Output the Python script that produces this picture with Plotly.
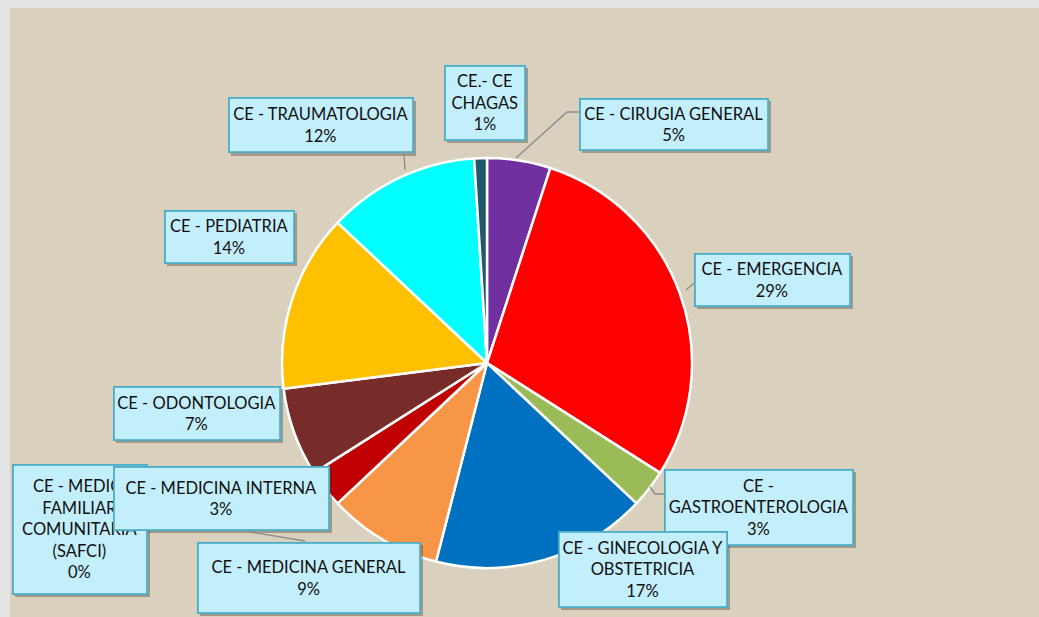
import plotly.graph_objects as go

W, H = 1039, 617

# ---- data ----
categories = [
    "CE - CIRUGIA GENERAL", "CE - EMERGENCIA", "CE - GASTROENTEROLOGIA",
    "CE - GINECOLOGIA Y OBSTETRICIA", "CE - MEDICINA GENERAL",
    "CE - MEDICINA FAMILIAR COMUNITARIA (SAFCI)", "CE - MEDICINA INTERNA",
    "CE - ODONTOLOGIA", "CE - PEDIATRIA", "CE - TRAUMATOLOGIA", "CE.- CE CHAGAS",
]
values = [5, 29, 3, 17, 9, 0, 3, 7, 14, 12, 1]
display_names = [
    "CE - CIRUGIA GENERAL", "CE - EMERGENCIA", "CE -<br>GASTROENTEROLOGIA",
    "CE - GINECOLOGIA Y<br>OBSTETRICIA", "CE - MEDICINA GENERAL",
    "CE - MEDICI<br>FAMILIAR<br>COMUNITARIA<br>(SAFCI)", "CE - MEDICINA INTERNA",
    "CE - ODONTOLOGIA", "CE - PEDIATRIA", "CE - TRAUMATOLOGIA", "CE.- CE<br>CHAGAS",
]

# ---- styles / layout ----
colors = ["#7030a0", "#ff0000", "#9bbb59", "#0070c0", "#f79646", "#4f81bd",
          "#c00000", "#772c2a", "#ffc000", "#00ffff", "#215968"]
# label boxes: (left, top, right, bottom) in pixels
boxes = [
    (579, 98, 768, 150),   # cirugia
    (694, 253, 850, 306),  # emergencia
    (664, 469, 853, 545),  # gastro
    (558, 531, 727, 607),  # gineco
    (197, 542, 420, 613),  # med general
    (12, 464, 147, 594),   # safci
    (113, 466, 329, 530),  # med interna
    (113, 386, 280, 440),  # odonto
    (164, 210, 294, 263),  # pediatria
    (228, 98, 413, 153),   # trauma
    (444, 65, 525, 140),   # chagas
]
draw_order = [0, 1, 2, 3, 4, 5, 6, 7, 8, 9, 10]
leaders = [
    [(516, 158), (567, 112), (579, 112)],
    [(650, 487), (655, 494), (664, 494)],
    [(404, 153), (405, 170)],
    [(686, 290), (694, 283)],
    [(250, 532), (305, 541)],
]

def px(x):
    return x / W

def py(y):
    return 1 - y / H

fig = go.Figure(go.Pie(
    labels=categories, values=values, sort=False, direction="clockwise",
    rotation=0, marker=dict(colors=colors, line=dict(color="white", width=2.5)),
    textinfo="none", hoverinfo="label+percent", showlegend=False,
    domain=dict(x=[px(282), px(692)], y=[py(568), py(158)]),
))

shapes = [dict(type="rect", xref="paper", yref="paper", x0=px(10), x1=1,
               y0=0, y1=py(8), fillcolor="#d9d0be", line=dict(width=0),
               layer="below")]
for (l, t, r, b) in boxes:
    shapes.append(dict(type="rect", xref="paper", yref="paper",
                       x0=px(l + 3), x1=px(r + 3), y0=py(b + 3), y1=py(t + 3),
                       fillcolor="rgba(60,50,40,0.35)", line=dict(width=0),
                       layer="above"))
for pts in leaders:
    path = "M " + " L ".join(f"{px(x)},{py(y)}" for x, y in pts)
    shapes.append(dict(type="path", xref="paper", yref="paper", path=path,
                       line=dict(color="#8c8c8c", width=1.3), layer="above"))

annotations = []
for i in draw_order:
    l, t, r, b = boxes[i]
    annotations.append(dict(
        xref="paper", yref="paper", x=px((l + r) / 2), y=py((t + b) / 2),
        xanchor="center", yanchor="middle", showarrow=False,
        text=f"{display_names[i]}<br>{values[i]}%",
        width=r - l - 6, height=b - t - 6, borderpad=1.5,
        bgcolor="#c3eefb", bordercolor="#4bacc6", borderwidth=1.8,
        font=dict(family="Lato, Carlito, sans-serif", size=16.5, color="#111111"),
        align="center", valign="middle",
    ))

fig.update_layout(
    width=W, height=H, margin=dict(l=0, r=0, t=0, b=0),
    paper_bgcolor="#e4e4e4", plot_bgcolor="#e4e4e4",
    shapes=shapes, annotations=annotations,
)

fig.write_html("out.html", config={"displayModeBar": False},
               post_script="document.body.style.margin='0';document.body.style.overflow='hidden';")
